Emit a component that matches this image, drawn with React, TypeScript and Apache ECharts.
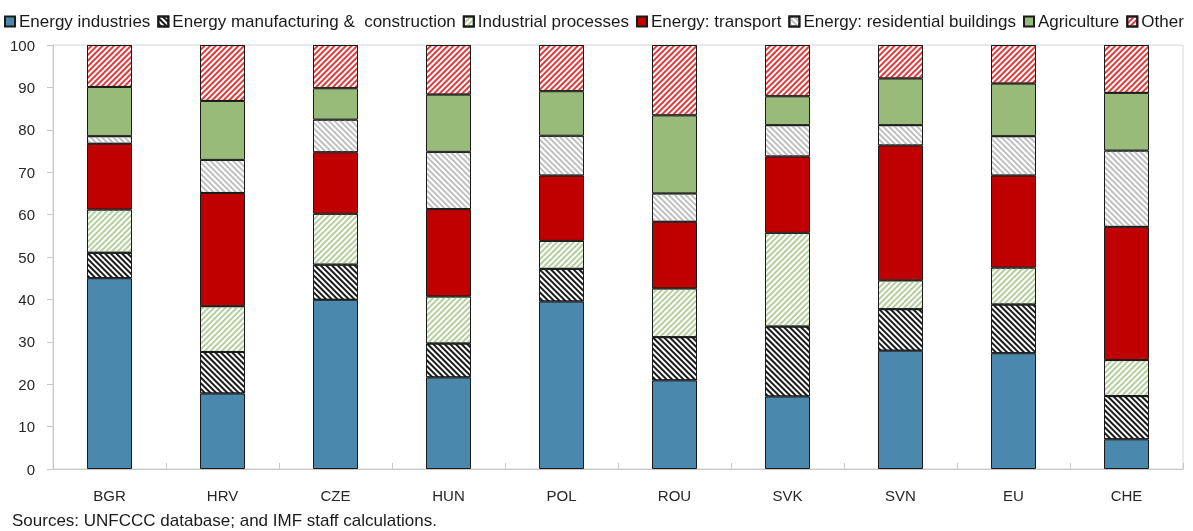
import React, { useEffect, useRef } from "react";
import * as echarts from "echarts";

const categories = ["BGR", "HRV", "CZE", "HUN", "POL", "ROU", "SVK", "SVN", "EU", "CHE"];
const energyIndustries = [45, 17.8, 39.9, 21.6, 39.5, 20.9, 17.1, 27.9, 27.3, 7.0];
const energyManufacturing = [6, 9.8, 8.3, 8.0, 7.7, 10.2, 16.5, 9.8, 11.5, 10.2];
const industrialProcesses = [10.2, 10.8, 12.0, 11.1, 6.6, 11.5, 22.1, 6.8, 8.7, 8.5];
const energyTransport = [15.5, 26.7, 14.5, 20.6, 15.4, 15.7, 18.0, 31.8, 21.7, 31.4];
const energyResidential = [1.8, 7.8, 7.7, 13.5, 9.4, 6.7, 7.4, 4.8, 9.3, 18.0];
const agriculture = [11.6, 13.9, 7.4, 13.5, 10.5, 18.4, 6.8, 11.0, 12.4, 13.6];
const other = [9.9, 13.2, 10.2, 11.7, 10.9, 16.6, 12.1, 7.9, 9.1, 11.3];

const FONT = "'Liberation Sans', Arial, sans-serif";

function hatch(color: string, rotation: number) {
  return {
    symbol: "rect",
    symbolSize: 1,
    color,
    backgroundColor: "#ffffff",
    dashArrayX: [1, 0],
    dashArrayY: [1.5, 1.7],
    rotation,
  };
}

export default function App() {
  const ref = useRef<HTMLDivElement>(null);
  useEffect(() => {
    if (!ref.current) return;
    const chart = echarts.init(ref.current, undefined, { renderer: "svg" });
    const mk = (name: string, data: number[], itemStyle: any) => ({
      name,
      type: "bar",
      stack: "total",
      data,
      barWidth: 45,
      itemStyle: { borderColor: "#1a1a1a", borderWidth: 1, ...itemStyle },
    });
    chart.setOption({
      animation: false,
      textStyle: { fontFamily: FONT },
      legend: {
        top: 13,
        left: 4,
        width: 1189,
        padding: 0,
        icon: "rect",
        itemWidth: 10,
        itemHeight: 10,
        itemGap: 7,
        textStyle: { fontFamily: FONT, fontSize: 17, color: "#1a1a1a", padding: [0, 0, 0, -1] },
      },
      grid: {
        left: 53,
        right: 10,
        top: 45,
        bottom: 62,
        show: true,
        borderColor: "#d4d4d4",
        borderWidth: 1,
      },
      xAxis: {
        type: "category",
        data: categories,
        axisLine: { lineStyle: { color: "#c8c8c8" } },
        axisTick: { show: true, inside: true, length: 6, lineStyle: { color: "#c8c8c8" } },
        axisLabel: { fontFamily: FONT, fontSize: 15, color: "#262626", margin: 19 },
      },
      yAxis: {
        type: "value",
        min: 0,
        max: 100,
        interval: 10,
        splitLine: { show: false },
        axisLine: { show: true, lineStyle: { color: "#c8c8c8" } },
        axisTick: { show: true, length: 6, lineStyle: { color: "#c8c8c8" } },
        axisLabel: { fontFamily: FONT, fontSize: 15, color: "#262626", margin: 18 },
      },
      series: [
        mk("Energy industries", energyIndustries, { color: "#4a89ad" }),
        mk("Energy manufacturing &  construction", energyManufacturing, { color: "#ffffff", decal: hatch("#1a1a1a", Math.PI / 4) }),
        mk("Industrial processes", industrialProcesses, { color: "#ffffff", decal: hatch("#b4cf9c", -Math.PI / 4) }),
        mk("Energy: transport", energyTransport, { color: "#c00000" }),
        mk("Energy: residential buildings", energyResidential, { color: "#ffffff", decal: hatch("#c0c0c0", Math.PI / 4) }),
        mk("Agriculture", agriculture, { color: "#98bb7a" }),
        mk("Other", other, { color: "#ffffff", decal: hatch("#e03a3a", -Math.PI / 4) }),
      ],
      graphic: [
        {
          type: "text",
          left: 12,
          top: 512,
          style: { text: "Sources: UNFCCC database; and IMF staff calculations.", font: `17px ${FONT}`, fill: "#1a1a1a" },
        },
      ],
    });
    return () => chart.dispose();
  }, []);
  return <div ref={ref} style={{ position: "fixed", left: 0, top: 0, width: 1193, height: 531 }} />;
}
